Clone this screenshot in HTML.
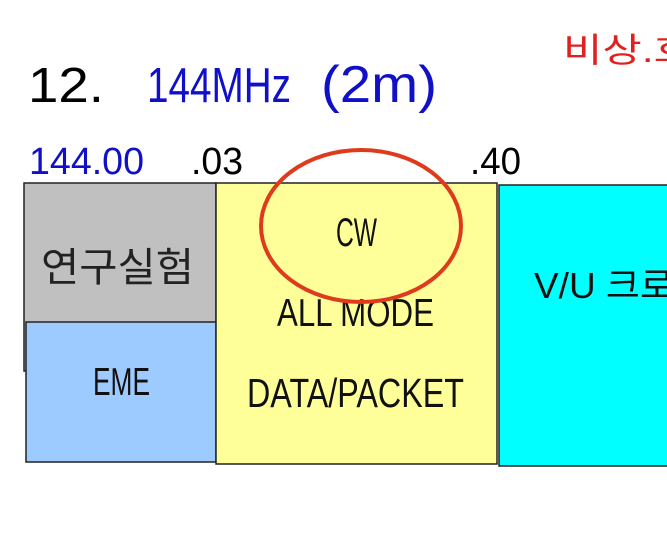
<!DOCTYPE html>
<html><head><meta charset="utf-8"><style>html,body{margin:0;padding:0;background:#fff;overflow:hidden}</style></head>
<body>
<svg width="667" height="546" xmlns="http://www.w3.org/2000/svg" font-family="'Liberation Sans','Noto Sans CJK KR',sans-serif">
<rect width="667" height="546" fill="#fff"/>
<text x="28" y="102" font-size="49" fill="#000" textLength="76" lengthAdjust="spacingAndGlyphs">12.</text>
<text x="147" y="102" font-size="49" fill="#1010c8" textLength="144" lengthAdjust="spacingAndGlyphs">144MHz</text>
<text x="321" y="102" font-size="52" fill="#1010c8" textLength="116" lengthAdjust="spacingAndGlyphs">(2m)</text>
<text x="563" y="62" font-size="34" fill="#e02020" textLength="130" lengthAdjust="spacingAndGlyphs">비상.호</text>
<text x="29" y="174" font-size="38" fill="#1010c8" textLength="115" lengthAdjust="spacingAndGlyphs">144.00</text>
<text x="191" y="174" font-size="38" fill="#000" textLength="52" lengthAdjust="spacingAndGlyphs">.03</text>
<text x="470" y="174" font-size="38" fill="#000" textLength="51" lengthAdjust="spacingAndGlyphs">.40</text>
<rect x="24" y="183" width="192" height="188" fill="#c0c0c0" stroke="#222" stroke-width="1.5"/>
<rect x="26" y="322" width="190" height="140" fill="#9ecbff" stroke="#222" stroke-width="1.5"/>
<rect x="216" y="183" width="281" height="281" fill="#ffff99" stroke="#222" stroke-width="1.5"/>
<rect x="499" y="185" width="170" height="281" fill="#00ffff" stroke="#222" stroke-width="1.5"/>
<text x="41" y="281" font-size="40" fill="#222" textLength="153" lengthAdjust="spacingAndGlyphs">연구실험</text>
<text x="93" y="395" font-size="39" fill="#111" textLength="57" lengthAdjust="spacingAndGlyphs">EME</text>
<text x="336" y="246" font-size="40" fill="#111" textLength="41" lengthAdjust="spacingAndGlyphs">CW</text>
<text x="277" y="326" font-size="39" fill="#111" textLength="157" lengthAdjust="spacingAndGlyphs">ALL MODE</text>
<text x="247" y="407" font-size="41" fill="#111" textLength="217" lengthAdjust="spacingAndGlyphs">DATA/PACKET</text>
<text x="534" y="298" font-size="36" fill="#111" textLength="140" lengthAdjust="spacingAndGlyphs">V/U 크로</text>
<ellipse cx="361" cy="226" rx="100" ry="76" fill="none" stroke="#e03a1c" stroke-width="4"/>
</svg>
</body></html>
